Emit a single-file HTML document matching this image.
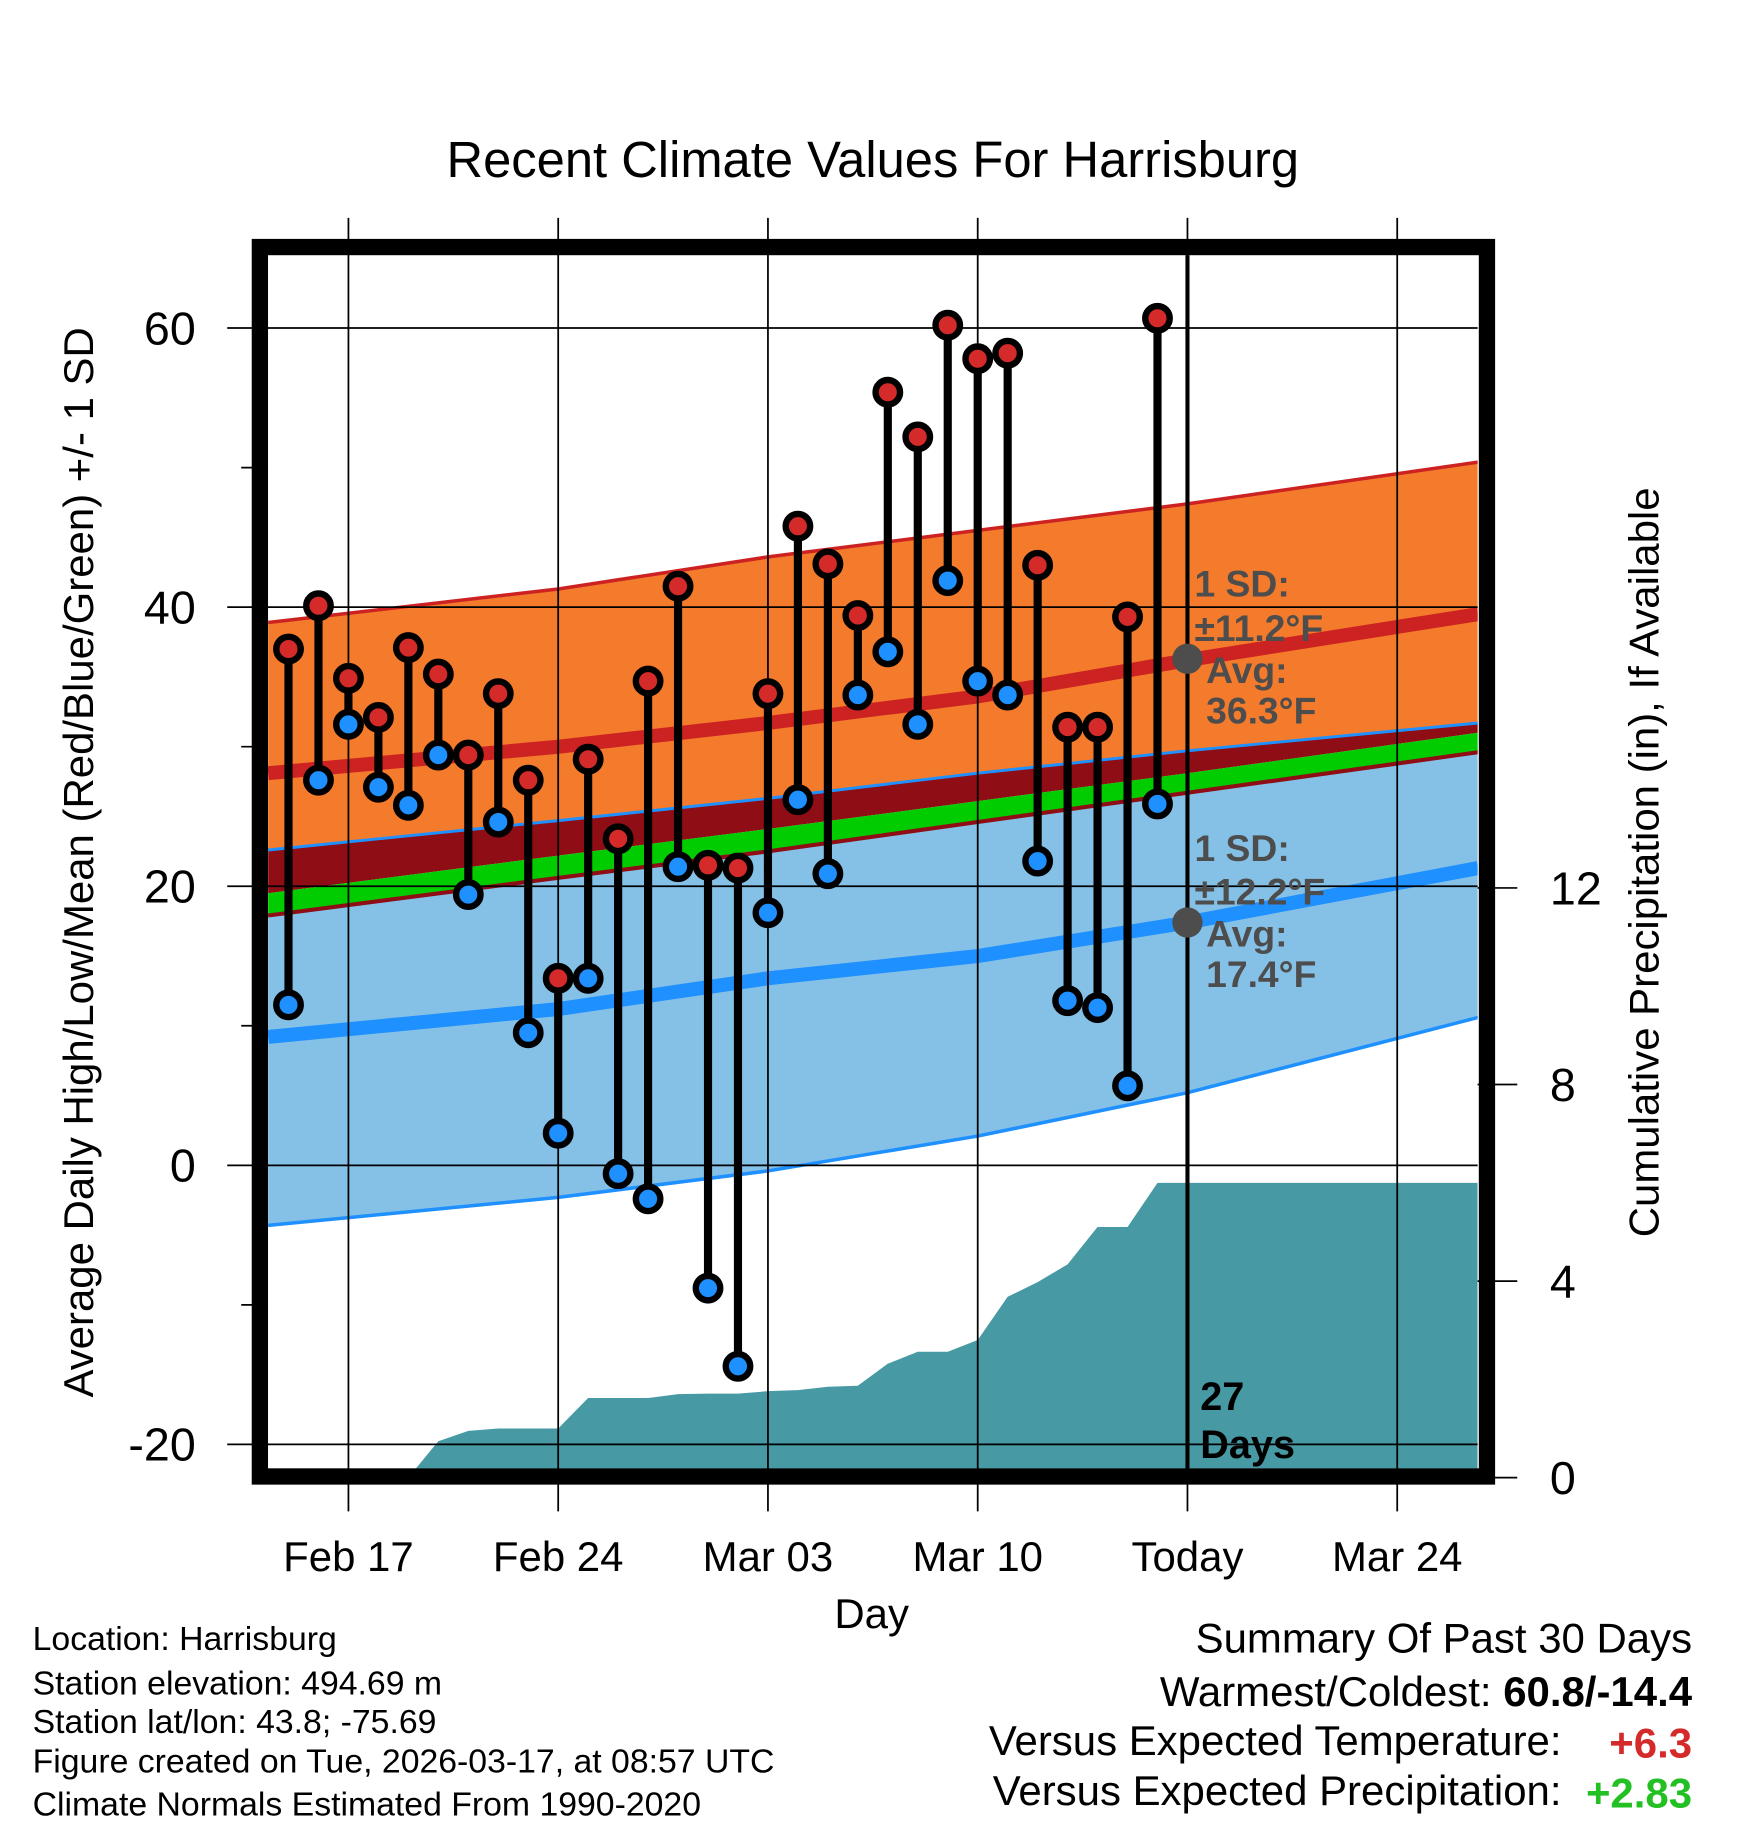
<!DOCTYPE html>
<html><head><meta charset="utf-8"><style>
html,body{margin:0;padding:0;background:#fff;}
svg{display:block;font-family:"Liberation Sans",Arial,sans-serif;}
</style></head><body>
<svg id="chart" width="1748" height="1828" viewBox="0 0 1500 1568.65" preserveAspectRatio="none" xmlns="http://www.w3.org/2000/svg">
<rect x="0" y="0" width="1500" height="1568.65" fill="#fff"/>
<g id="bands"></g><g id="grid"></g><g id="marks"></g>
<text x="749" y="152" font-size="43.5" text-anchor="middle">Recent Climate Values For Harrisburg</text>
<text transform="translate(80,740) rotate(-90)" font-size="36" text-anchor="middle">Average Daily High/Low/Mean (Red/Blue/Green) +/- 1 SD</text>
<text transform="translate(1423,740) rotate(-90)" font-size="36" text-anchor="middle">Cumulative Precipitation (in), If Available</text>
<text x="748" y="1397" font-size="36" text-anchor="middle">Day</text>
<g font-size="29">
<text x="28" y="1416">Location: Harrisburg</text>
<text x="28" y="1454">Station elevation: 494.69 m</text>
<text x="28" y="1487">Station lat/lon: 43.8; -75.69</text>
<text x="28" y="1521">Figure created on Tue, 2026-03-17, at 08:57 UTC</text>
<text x="28" y="1558">Climate Normals Estimated From 1990-2020</text>
</g>
<g font-size="36" text-anchor="end">
<text x="1452" y="1418">Summary Of Past 30 Days</text>
<text x="1452" y="1464">Warmest/Coldest: <tspan font-weight="bold">60.8/-14.4</tspan></text>
<text x="1340" y="1506">Versus Expected Temperature:</text>
<text x="1452" y="1508" fill="#d42a2a" font-weight="bold">+6.3</text>
<text x="1340" y="1549">Versus Expected Precipitation:</text>
<text x="1452" y="1551" fill="#22c022" font-weight="bold">+2.83</text>
</g>
</svg>
<script>
// data
const days = [-2,-1,0,1,2,3,4,5,6,7,8,9,10,11,12,13,14,15,16,17,18,19,20,21,22,23,24,25,26,27];
const highs = [37.0,40.1,34.9,32.1,37.1,35.2,29.4,33.8,27.6,13.4,29.1,23.4,34.7,41.5,21.5,21.3,33.8,45.8,43.1,39.4,55.4,52.2,60.2,57.8,58.2,43.0,31.4,31.4,39.3,60.7];
const lows = [11.5,27.6,31.6,27.1,25.8,29.4,19.4,24.6,9.5,2.3,13.4,-0.6,-2.4,21.4,-8.8,-14.4,18.1,26.2,20.9,33.7,36.8,31.6,41.9,34.7,33.7,21.8,11.8,11.3,5.7,25.9];
const precip = [0,0,0,0,0,0.74,0.95,1.0,1.0,1.0,1.62,1.62,1.62,1.7,1.71,1.71,1.76,1.78,1.85,1.87,2.32,2.56,2.56,2.8,3.68,3.98,4.34,5.1,5.1,6.0];
const normDays = [-2.68,7,14,21,28,37.7];
const highUpper = [38.9,41.3,43.6,45.5,47.4,50.4];
const highMean = [28.1,30.0,31.7,33.6,36.2,39.5];
const lowUpper = [22.6,24.7,26.3,28.1,29.7,31.7];
const meanUpper = [19.5,22.2,24.1,26.1,28.1,31.0];
const meanLower = [17.9,20.6,22.5,24.6,26.7,29.6];
const lowMean = [9.2,11.2,13.4,15.0,17.4,21.3];
const lowLower = [-4.3,-2.3,-0.4,2.1,5.2,10.6];
const yTicks = [60,40,20,0,-20];
const yMinor = [50,30,10,-10];
const y2Ticks = [0,4,8,12];
const xTickDays = [0,7,14,21,28,35];
const xTickLabels = ["Feb 17","Feb 24","Mar 03","Mar 10","Today","Mar 24"];
const todayDay = 28;

const NS="http://www.w3.org/2000/svg";
const L=230,R=1268,T=219,B=1260;
const xs=d=>299+d*25.714;
const ys=v=>1000-v*11.975;
const yp=p=>1268-p*42.17;
function mk(tag,attrs,parent){const e=document.createElementNS(NS,tag);for(const k in attrs)e.setAttribute(k,attrs[k]);parent.appendChild(e);return e;}
const bands=document.getElementById('bands'),grid=document.getElementById('grid'),marks=document.getElementById('marks'),svg=document.getElementById('chart');
const clip=mk('clipPath',{id:'pc'},svg);mk('rect',{x:L,y:T,width:R-L,height:B-T},clip);
bands.setAttribute('clip-path','url(#pc)');
function pts(arr){return normDays.map((d,i)=>[xs(d),ys(arr[i])]);}
function line(p){return p.map((q,i)=>(i?'L':'M')+q[0].toFixed(1)+','+q[1].toFixed(1)).join(' ');}
function area(a,b,fill,name){const pa=pts(a),pb=pts(b).reverse();const e=mk('path',{d:line(pa)+' '+line(pb).replace('M','L')+' Z',fill:fill},bands);

return e;}
area(highUpper,lowUpper,'#f47a2c','high-sd-band');
area(lowUpper,meanUpper,'#8f0d14','overlap-band');
area(meanUpper,meanLower,'#00cc00','mean-band');
area(meanLower,lowLower,'#85c1e6','low-sd-band');
function ln(arr,color,w,name){const e=mk('path',{d:line(pts(arr)),fill:'none',stroke:color,'stroke-width':w},bands);

}
ln(highUpper,'#cc2222',3,'high-upper-line');
ln(highMean,'#cc2222',12,'high-mean-line');
ln(lowUpper,'#1e90ff',2.5,'low-upper-line');
ln(meanLower,'#8f0d14',3.5,'mean-lower-line');
ln(lowMean,'#1e90ff',12,'low-mean-line');
ln(lowLower,'#1e90ff',3,'low-lower-line');
// precip area
let pd='M'+xs(days[0])+','+yp(0);
days.forEach((d,i)=>{pd+=' L'+xs(d).toFixed(1)+','+yp(precip[i]).toFixed(1);});
pd+=' L'+R+','+yp(precip[precip.length-1]).toFixed(1)+' L'+R+','+yp(0)+' Z';
const pa=mk('path',{d:pd,fill:'#4799a4'},bands);


// grid
yTicks.forEach(v=>{const g=mk('line',{x1:195,x2:R,y1:ys(v),y2:ys(v),stroke:'#000','stroke-width':1.5},grid);


const t=mk('text',{x:168,y:ys(v)+14,'font-size':40,'text-anchor':'end'},grid);t.textContent=v;

});
yMinor.forEach(v=>{const g=mk('line',{x1:207,x2:L,y1:ys(v),y2:ys(v),stroke:'#000','stroke-width':1.5},grid);

});
y2Ticks.forEach(v=>{const g=mk('line',{x1:R,x2:1302,y1:yp(v),y2:yp(v),stroke:'#000','stroke-width':1.5},grid);


const t=mk('text',{x:1330,y:yp(v)+14,'font-size':40},grid);t.textContent=v;

});
xTickDays.forEach((d,i)=>{const g=mk('line',{x1:xs(d),x2:xs(d),y1:187,y2:1297,stroke:'#000','stroke-width':1.5},grid);


const t=mk('text',{x:xs(d),y:1348,'font-size':36,'text-anchor':'middle'},grid);t.textContent=xTickLabels[i];

});
// today line
const tl=mk('line',{x1:xs(todayDay),x2:xs(todayDay),y1:T,y2:B,stroke:'#000','stroke-width':3.5},marks);


// annotations
const gray='#4d4d4d';
[[500,'1 SD:',1025],[538,'±11.2°F',1025],[574,'Avg:',1035],[609,'36.3°F',1035],[727,'1 SD:',1025],[764,'±12.2°F',1025],[800,'Avg:',1035],[835,'17.4°F',1035]].forEach(a=>{
const t=mk('text',{x:a[2],y:a[0]+12,'font-size':32,'font-weight':'bold',fill:gray},marks);t.textContent=a[1];

});
[36.3,17.4].forEach(v=>{const c=mk('circle',{cx:xs(todayDay),cy:ys(v),r:13,fill:gray},marks);

});
[['27',1210],['Days',1251]].forEach(a=>{const t=mk('text',{x:1030,y:a[1],'font-size':34,'font-weight':'bold'},marks);t.textContent=a[0];

});
// stems and points
days.forEach((d,i)=>{const x=xs(d);
const s=mk('line',{x1:x,x2:x,y1:ys(highs[i]),y2:ys(lows[i]),stroke:'#000','stroke-width':7},marks);

});
days.forEach((d,i)=>{const x=xs(d);
const h=mk('circle',{cx:x,cy:ys(highs[i]),r:10.5,fill:'#d42a2a',stroke:'#000','stroke-width':5.5},marks);


const l=mk('circle',{cx:x,cy:ys(lows[i]),r:10.5,fill:'#1e90ff',stroke:'#000','stroke-width':5.5},marks);

});
// frame
const fr=mk('rect',{x:223,y:212,width:1053,height:1055,fill:'none',stroke:'#000','stroke-width':14},marks);


</script>
</body></html>
